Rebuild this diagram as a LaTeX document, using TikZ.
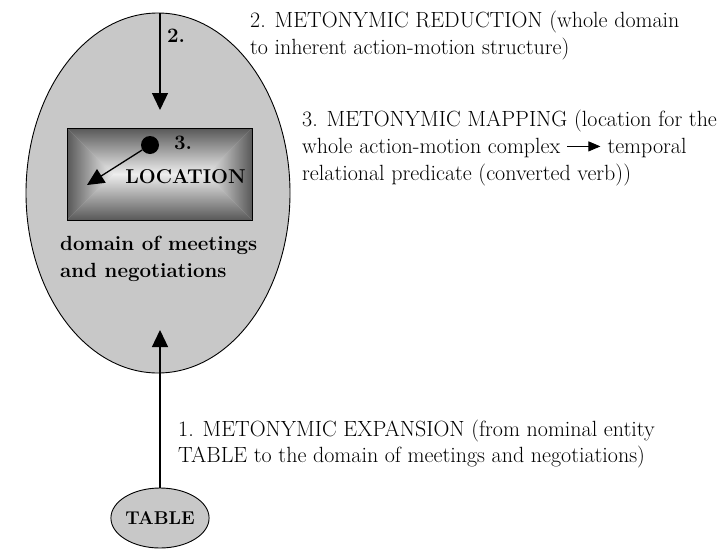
\documentclass[tikz,border=0pt]{standalone}
\usetikzlibrary{arrows.meta,shapes.geometric}
\definecolor{ellgray}{RGB}{200,200,200}
\definecolor{dk}{RGB}{88,88,88}
\definecolor{lt}{RGB}{238,238,238}
\begin{document}
\begin{tikzpicture}[x=1pt,y=-1pt,
  lbl/.style={font=\fontsize{22}{27}\selectfont, anchor=base west, inner sep=0},
  bl/.style={font=\bfseries\fontsize{20.5}{27}\selectfont, inner sep=0},
  arr/.style={line width=1.3pt, -{Triangle[width=16pt,length=17pt]}},
]
\useasboundingbox (0,0) rectangle (722,549);
% big domain ellipse
\node[ellipse, draw, line width=0.9pt, fill=ellgray, minimum width=264pt, minimum height=360pt, inner sep=0] (domain) at (158,193) {};
% shaded location rectangle
\shade[left color=dk, right color=lt] (67,128) -- (113,174) -- (67,220) -- cycle;
\shade[left color=lt, right color=dk] (252,128) -- (206,174) -- (252,220) -- cycle;
\shade[top color=dk, bottom color=lt] (67,128) -- (252,128) -- (206,174) -- (113,174) -- cycle;
\shade[top color=lt, bottom color=dk] (67,220) -- (252,220) -- (206,174) -- (113,174) -- cycle;
\node[draw, line width=1pt, minimum width=185pt, minimum height=92pt, inner sep=0] (loc) at (159.5,174) {};
\node[bl, font=\bfseries\fontsize{20}{27}\selectfont, anchor=base] (locl) at (185.5,183) {LOCATION};
\node[circle, fill=black, minimum size=18pt, inner sep=0] (dot) at (150,145) {};
\node[bl] (n3) at (183,143) {3.};
\coordinate (a3) at (87,185);
\draw[arr] (dot) -- (a3);
% arrow 2
\coordinate (top2) at (160,13);
\coordinate (a2) at (160,110);
\draw[arr] (top2) -- (a2);
\node[bl] (n2) at (176,36) {2.};
% domain label
\node[bl, anchor=base west] (dl1) at (60,250) {domain of meetings};
\node[bl, anchor=base west] (dl2) at (60,277) {and negotiations};
% TABLE
\node[ellipse, draw, line width=0.9pt, fill=ellgray, minimum width=76pt, minimum height=60pt, inner sep=0, font=\bfseries\fontsize{18.5}{20}\selectfont] (table) at (160,518) {TABLE};
\coordinate (a1) at (160,330);
\draw[arr] (table.north) -- (a1);
% texts
\node[lbl] (t21) at (250,27) {2. METONYMIC REDUCTION (whole domain};
\node[lbl] (t22) at (250,54) {to inherent action-motion structure)};
\node[lbl] (t31) at (302,126) {3. METONYMIC MAPPING (location for the};
\node[lbl] (t32) at (302,153) {whole action-motion complex \tikz[baseline=0pt]\draw[line width=0.9pt,-{Triangle[width=10pt,length=12pt]}] (0,0.3em) -- (1.5em,0.3em); temporal};
\node[lbl] (t33) at (302,180) {relational predicate (converted verb))};
\node[lbl] (t11) at (178,436) {1. METONYMIC EXPANSION (from nominal entity};
\node[lbl] (t12) at (178,462) {TABLE to the domain of meetings and negotiations)};
\end{tikzpicture}
\end{document}
